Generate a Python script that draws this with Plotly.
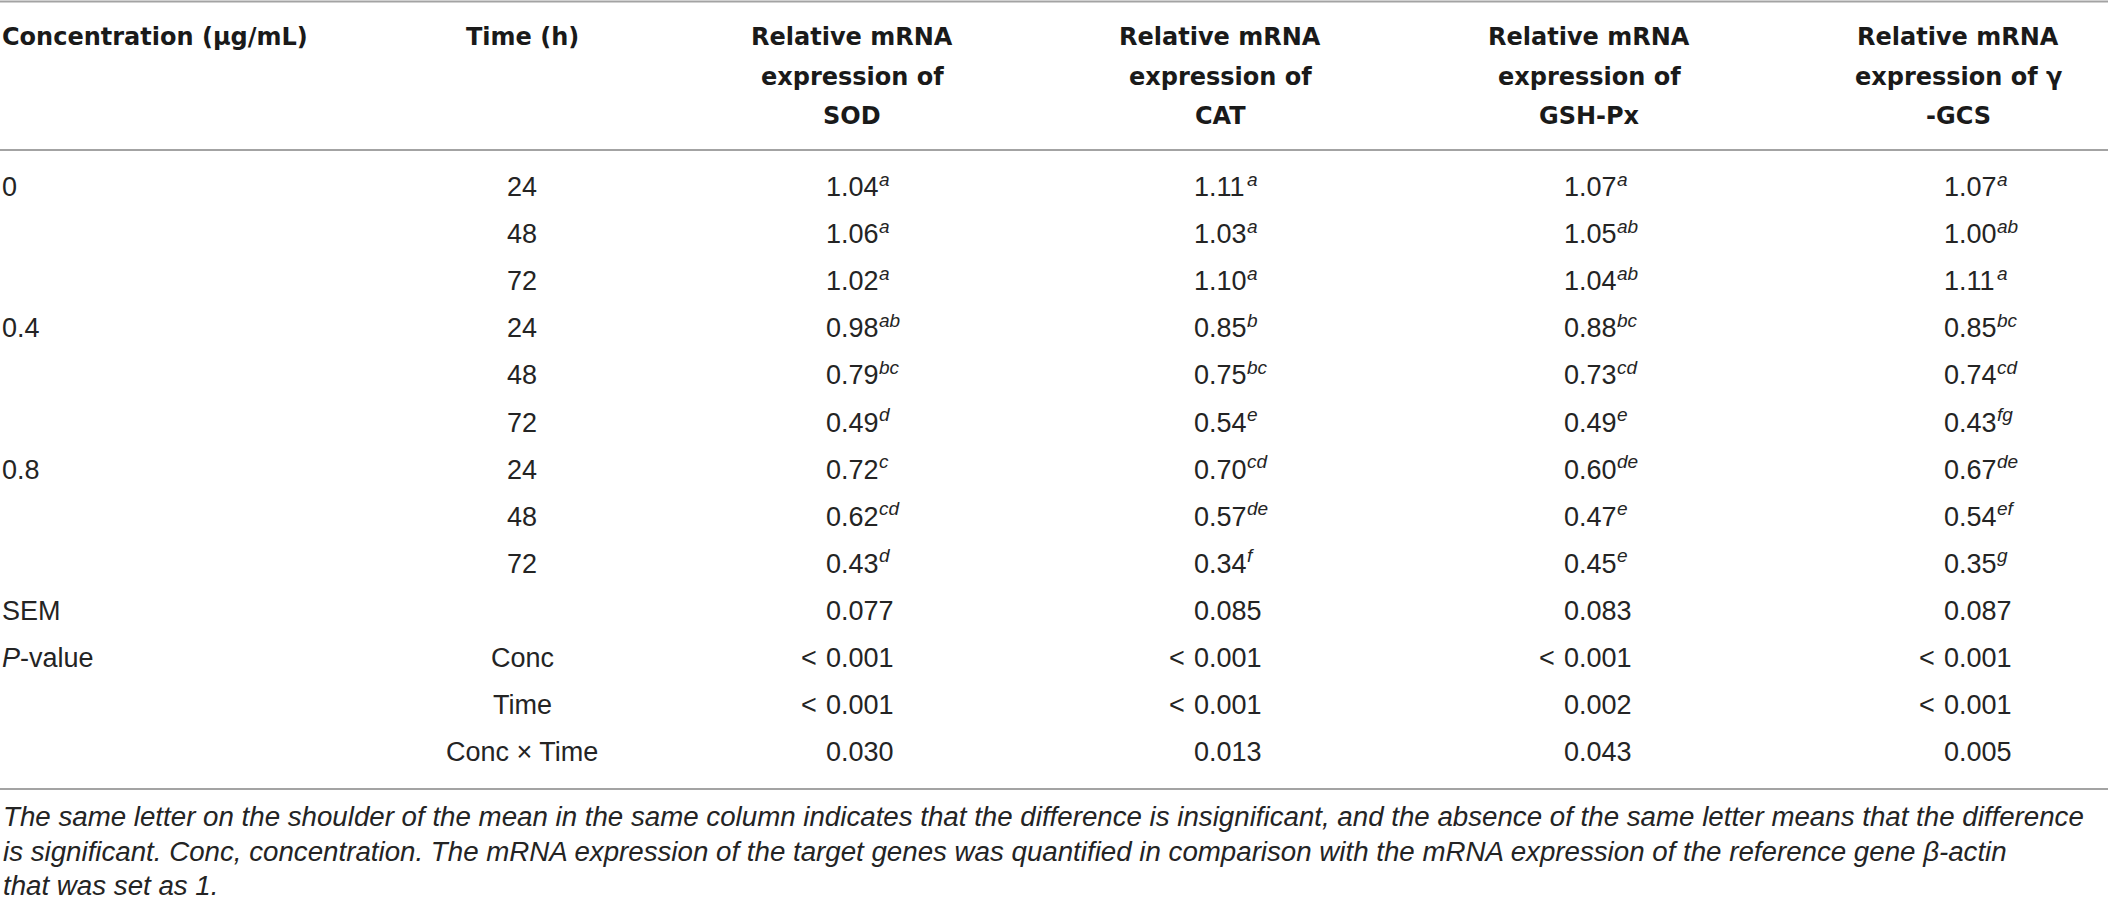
import plotly.graph_objects as go

# table contents
conc_labels = ["0", "", "", "0.4", "", "", "0.8", "", "", "SEM", "<i>P</i>-value", "", ""]
time_labels = ["24", "48", "72", "24", "48", "72", "24", "48", "72", "", "Conc", "Time", "Conc × Time"]

sod = ["1.04", "1.06", "1.02", "0.98", "0.79", "0.49", "0.72", "0.62", "0.43",
       "0.077", "< 0.001", "< 0.001", "0.030"]
sod_sup = ["a", "a", "a", "ab", "bc", "d", "c", "cd", "d", "", "", "", ""]
cat = ["1.11", "1.03", "1.10", "0.85", "0.75", "0.54", "0.70", "0.57", "0.34",
       "0.085", "< 0.001", "< 0.001", "0.013"]
cat_sup = ["a", "a", "a", "b", "bc", "e", "cd", "de", "f", "", "", "", ""]
gsh = ["1.07", "1.05", "1.04", "0.88", "0.73", "0.49", "0.60", "0.47", "0.45",
       "0.083", "< 0.001", "0.002", "0.043"]
gsh_sup = ["a", "ab", "ab", "bc", "cd", "e", "de", "e", "e", "", "", "", ""]
gcs = ["1.07", "1.00", "1.11", "0.85", "0.74", "0.43", "0.67", "0.54", "0.35",
       "0.087", "< 0.001", "< 0.001", "0.005"]
gcs_sup = ["a", "ab", "a", "bc", "cd", "fg", "de", "ef", "g", "", "", "", ""]

headers = [["Concentration (μg/mL)"], ["Time (h)"],
           ["Relative mRNA", "expression of", "SOD"],
           ["Relative mRNA", "expression of", "CAT"],
           ["Relative mRNA", "expression of", "GSH-Px"],
           ["Relative mRNA", "expression of γ", "-GCS"]]

caption = [
    "The same letter on the shoulder of the mean in the same column indicates that the difference is insignificant, "
    "and the absence of the same letter means that the difference",
    "is significant. Conc, concentration. The mRNA expression of the target genes was quantified in comparison "
    "with the mRNA expression of the reference gene β-actin",
    "that was set as 1.",
]

# layout
W, H = 2108, 903
ROW0, STEP = 187, 47.1
HEAD_Y = [37, 76.5, 116]
COL_X = [1, 522, 852, 1220, 1589, 1958]
START_X = [825, 1193, 1563, 1943]
NUM_W = 53
CAP_Y = [816, 851, 885]

TXT = dict(family="Liberation Sans", size=27, color="#242424")
SUP = dict(family="Liberation Sans", size=19, color="#242424")
HEAD = dict(family="DejaVu Sans", size=24, color="#1a1a1a")
CAP = dict(family="Liberation Sans", size=27.7, color="#242424")

ann = []


def add(text, x, y, font, xanchor="center"):
    ann.append(dict(text=text, x=x, y=y, xref="x", yref="y", showarrow=False,
                    xanchor=xanchor, yanchor="middle", font=font, borderpad=0))


# header
for k, (hx, lines) in enumerate(zip(COL_X, headers)):
    for hy, line in zip(HEAD_Y, lines):
        add("<b>" + line + "</b>", hx, hy, HEAD, xanchor="left" if k == 0 else "center")

# body
for i in range(len(time_labels)):
    y = ROW0 + STEP * i
    if conc_labels[i]:
        add(conc_labels[i], COL_X[0], y, TXT, xanchor="left")
    if time_labels[i]:
        add(time_labels[i], COL_X[1], y, TXT)
    for sx, vals, sups in zip(START_X, [sod, cat, gsh, gcs], [sod_sup, cat_sup, gsh_sup, gcs_sup]):
        v = vals[i]
        if v.startswith("<"):
            add("&lt;", sx - 7, y, TXT, xanchor="right")
            v = v[2:]
        add(v, sx, y, TXT, xanchor="left")
        if sups[i]:
            add("<i>" + sups[i] + "</i>", sx + NUM_W, y - 8, SUP, xanchor="left")

# caption
for cy, line in zip(CAP_Y, caption):
    add("<i>" + line + "</i>", 2, cy, CAP, xanchor="left")

shapes = [dict(type="line", xref="x", yref="y", x0=0, x1=W, y0=yy, y1=yy,
               line=dict(color="#a3a3a3", width=2)) for yy in (1.5, 150, 789)]

fig = go.Figure()
fig.update_layout(
    width=W, height=H, margin=dict(l=0, r=0, t=0, b=0),
    paper_bgcolor="white", plot_bgcolor="white",
    xaxis=dict(range=[0, W], visible=False, fixedrange=True),
    yaxis=dict(range=[H, 0], visible=False, fixedrange=True),
    annotations=ann, shapes=shapes, showlegend=False,
)

fig.write_html("out.html", config={"displayModeBar": False},
               post_script="document.body.style.margin='0';")
